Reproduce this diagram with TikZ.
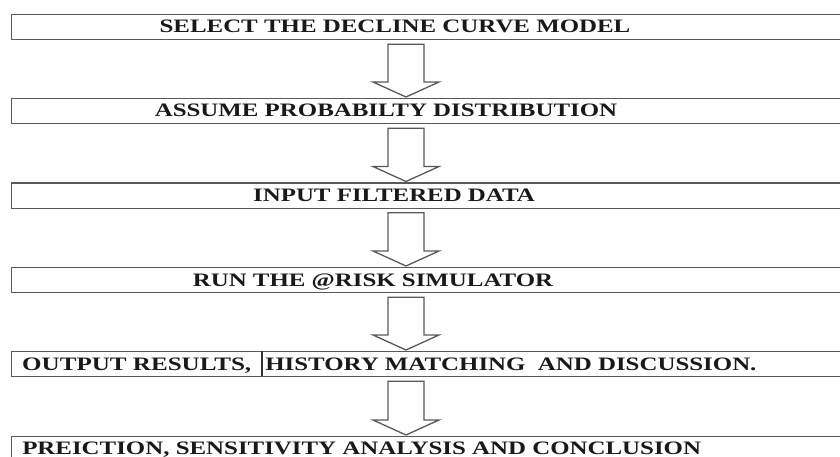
\documentclass[tikz,border=0pt]{standalone}
\usepackage{fontspec}
\setmainfont{Liberation Serif}
\usetikzlibrary{calc}
\tikzset{
  stepbox/.style={draw=black!65, line width=1.3pt, rectangle, minimum width=860pt,
    minimum height=25pt, anchor=north west, inner sep=0pt},
  basetext/.style={font=\fontsize{19}{22}\selectfont\bfseries, inner sep=0pt, text=black!90},
  steptext/.style={basetext, xscale=1.31},
  arrowline/.style={draw=black!65, line width=1.3pt, line join=miter}
}
% hollow block arrow between two stacked boxes
\newcommand\blockarrow[2]{%
  \draw[arrowline]
    ($(#1.south -| ax)+(-18,4)$) -- ($(#2.north -| ax)+(-18,-16)$)
    -- ($(#2.north -| ax)+(-33,-16)$) -- ($(#2.north -| ax)+(0,-1)$)
    -- ($(#2.north -| ax)+(33,-16)$) -- ($(#2.north -| ax)+(18,-16)$)
    -- ($(#1.south -| ax)+(18,4)$) -- cycle;}
\begin{document}
\begin{tikzpicture}[x=1pt, y=-1pt]
  \useasboundingbox (0,0) rectangle (840,457);
  \clip (0,0) rectangle (840,457);
  \coordinate (ax) at (406,0);
  % process steps
  \node[stepbox] (b1) at (11,14) {};
  \node[stepbox] (b2) at (11,98) {};
  \node[stepbox] (b3) at (11,182.5) {};
  \node[stepbox] (b4) at (11,267) {};
  \node[stepbox] (b5) at (11,351) {};
  \node[stepbox] (b6) at (11,436) {};
  % labels
  \node[steptext, anchor=base] (t1) at (395,33) {SELECT THE DECLINE CURVE MODEL};
  \node[steptext, anchor=base] (t2) at (386,117) {ASSUME PROBABILTY DISTRIBUTION};
  \node[steptext, anchor=base] (t3) at (394,201.5) {INPUT FILTERED DATA};
  \node[steptext, anchor=base] (t4) at (373,286) {RUN THE @RISK SIMULATOR};
  \node[basetext, anchor=base west] (t5a) at (22,370) {\resizebox{229pt}{\height}{OUTPUT RESULTS,}};
  \node[steptext, anchor=base west] (t5b) at (265,370) {HISTORY MATCHING\ \ AND DISCUSSION.};
  \node[steptext, anchor=base west] (t6) at (22,454.5) {PREICTION, SENSITIVITY ANALYSIS AND CONCLUSION};
  % cell divider inside the fifth step
  \draw[black!80, line width=1.3pt] (262,351) -- (262,376);
  % flow arrows
  \blockarrow{b1}{b2}
  \blockarrow{b2}{b3}
  \blockarrow{b3}{b4}
  \blockarrow{b4}{b5}
  \blockarrow{b5}{b6}
\end{tikzpicture}
\end{document}
